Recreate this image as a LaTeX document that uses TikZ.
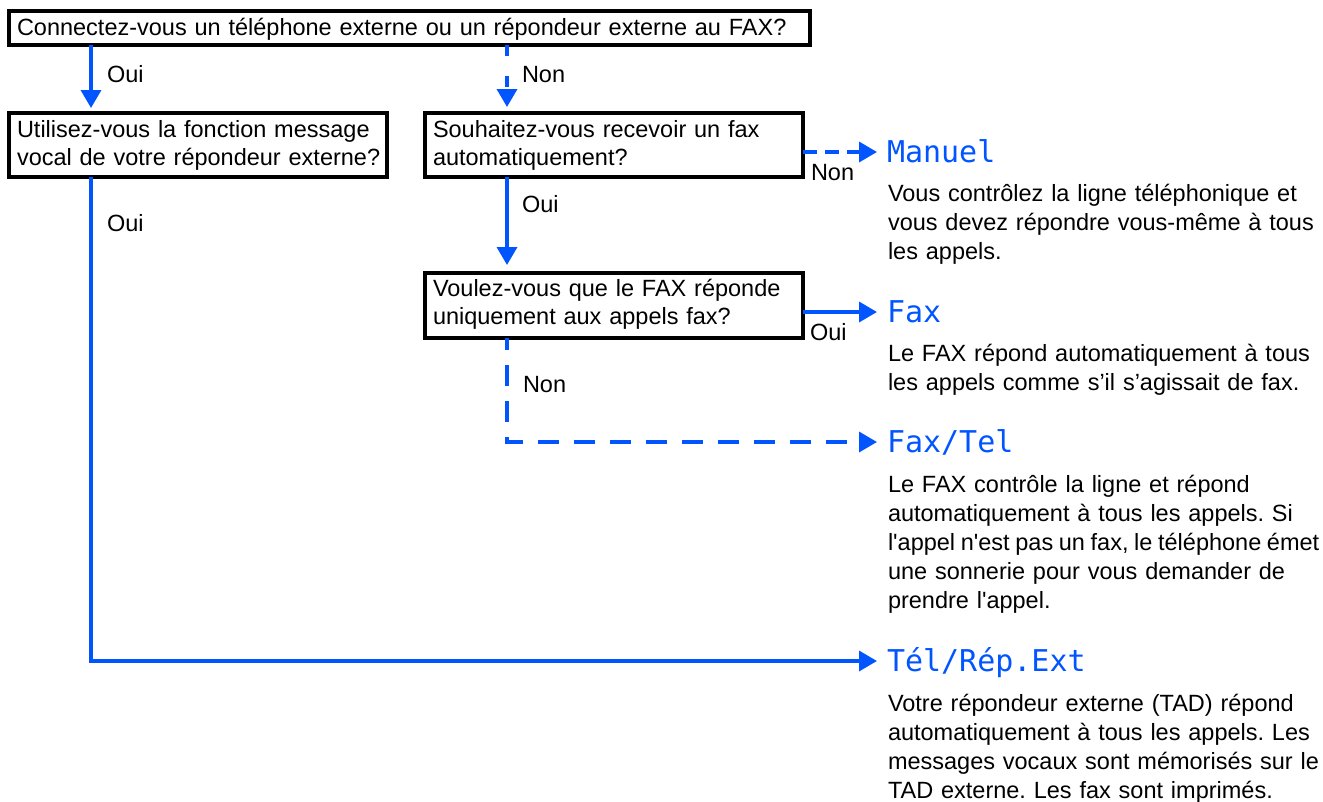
\documentclass[tikz,border=0pt]{standalone}
\usepackage{fontspec}
\setmainfont{Liberation Sans}
\newfontfamily\arialf{Liberation Sans}
\newfontfamily\lcdfont{DejaVu Sans Mono}
\usetikzlibrary{arrows.meta}
\definecolor{fblue}{RGB}{0,85,255}
\frenchspacing
\begin{document}
\begin{tikzpicture}[x=1pt,y=-1pt,
  every node/.style={inner sep=0pt, outer sep=0pt, font=\arialf\fontsize{23.5}{28.5}\selectfont},
  qbox/.style={draw=black, line width=3.5pt, anchor=north west, inner xsep=8pt, inner ysep=0pt, align=left, text width=#1},
  lbl/.style={anchor=base west},
  lcd/.style={anchor=base west, text=fblue, font=\lcdfont\fontsize{30}{30}\selectfont, text height=20pt, text depth=0pt},
  desc/.style={anchor=base west, align=left, text width=440pt, font=\arialf\fontsize{23.5}{29}\selectfont\frenchspacing},
  arr/.style={draw=fblue, line width=3.5pt, -{Triangle[length=18pt,width=20pt]}},
]
\path[use as bounding box, fill=white] (0,0) rectangle (1323,801);

% question boxes
\node[qbox=785pt, text height=24pt, text depth=10pt] (q1) at (9,11)
  {\mbox{Connectez-vous un téléphone externe ou un répondeur externe au FAX?}};
\node[qbox=362pt, text height=24pt, text depth=40pt] (q2) at (9,113)
  {\mbox{Utilisez-vous la fonction message}\\\mbox{vocal de votre répondeur externe?}};
\node[qbox=362pt, text height=24pt, text depth=40pt] (q3) at (425,113)
  {\mbox{Souhaitez-vous recevoir un fax}\\\mbox{automatiquement?}};
\node[qbox=362pt, text height=23pt, text depth=42pt] (q4) at (425,273)
  {\mbox{Voulez-vous que le FAX réponde}\\\mbox{uniquement aux appels fax?}};

% results
\node[lcd] (manuel) at (887,162) {Manuel};
\node[desc] (d1) at (888,201) {Vous contrôlez la ligne téléphonique et\\vous devez répondre vous-même à tous\\les appels.};
\node[lcd] (fax) at (887,322) {Fax};
\node[desc] (d2) at (888,361) {Le FAX répond automatiquement à tous\\les appels comme s’il s’agissait de fax.};
\node[lcd] (faxtel) at (887,452) {Fax/Tel};
\node[desc] (d3) at (888,492) {Le FAX contrôle la ligne et répond\\automatiquement à tous les appels. Si\\\mbox{\spaceskip=0.24em l'appel n'est pas un fax, le téléphone émet}\\une sonnerie pour vous demander de\\prendre l'appel.};
\node[lcd] (telrep) at (887,671) {Tél/Rép.Ext};
\node[desc] (d4) at (888,711) {Votre répondeur externe (TAD) répond\\automatiquement à tous les appels. Les\\messages vocaux sont mémorisés sur le\\TAD externe. Les fax sont imprimés.};

% labels
\node[lbl] (o1) at (107,82) {Oui};
\node[lbl] (n1) at (522,82) {Non};
\node[lbl] (o2) at (107,231) {Oui};
\node[lbl] (o3) at (522,212) {Oui};
\node[lbl] (n2) at (811,180) {Non};
\node[lbl] (o4) at (810,340) {Oui};
\node[lbl] (n3) at (523,392) {Non};

% connectors
\coordinate (xL) at (91,0);
\coordinate (xM) at (507,0);
\draw[arr, shorten >=5pt] (q1.south -| xL) -- (q2.north -| xL);
\draw[arr, dash pattern=on 11pt off 20pt, shorten >=6pt] (q1.south -| xM) -- (q3.north -| xM);
\draw[arr, shorten >=8pt] (q3.south -| xM) -- (q4.north -| xM);
\draw[arr, dash pattern=on 14pt off 8pt, shorten >=10pt] (q3.east |- manuel.west) -- (manuel.west);
\draw[arr, shorten >=10pt] (q4.east |- fax.west) -- (fax.west);
\draw[arr, dash pattern=on 21pt off 15pt, dash phase=9pt, shorten >=10pt] (q4.south -| xM) |- (faxtel.west);
\draw[arr, shorten >=10pt] (q2.south -| xL) |- (telrep.west);
\end{tikzpicture}
\end{document}
